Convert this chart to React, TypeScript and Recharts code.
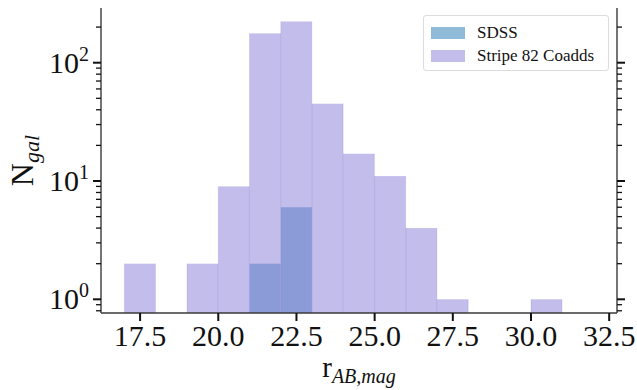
import React from "react";
import { ComposedChart, Bar, XAxis, YAxis, Legend } from "recharts";

// histogram bins (left edges, width 1 mag)
const binStarts = [17, 18, 19, 20, 21, 22, 23, 24, 25, 26, 27, 28, 29, 30];
const stripeCounts = [2, 0, 2, 9, 177, 223, 45, 17, 11, 4, 1, 0, 0, 1];
const sdssCounts = [0, 0, 0, 0, 2, 6, 0, 0, 0, 0, 0, 0, 0, 0];

const seriesNames = ["SDSS", "Stripe 82 Coadds"];
const xTicks = [17.5, 20, 22.5, 25, 27.5, 30, 32.5];
const yMajor = [1, 10, 100];
const yMinor = [0.8, 0.9, 2, 3, 4, 5, 6, 7, 8, 9, 20, 30, 40, 50, 60, 70, 80, 90, 200];

const FONT = '"Liberation Serif", "DejaVu Serif", serif';
const SDSS_COLOR = "#1f77b4";
const STRIPE_COLOR = "#877bd7";
const FRAME = "#3a3a3a";

const data = binStarts.map((lo, i) => ({
  mid: lo + 0.5,
  sdss: sdssCounts[i] > 0 ? sdssCounts[i] : null,
  stripe: stripeCounts[i] > 0 ? stripeCounts[i] : null,
}));

const yTicks = [...yMinor, ...yMajor].sort((a, b) => a - b);

const HistBar = (props: any) => {
  const { x, y, width, height, color, alpha, seam } = props;
  if (!height || height <= 0) return null;
  return (
    <g>
      <rect x={x} y={y} width={width} height={height} fill={color} fillOpacity={alpha} />
      {seam && (
        <>
          <line x1={x} x2={x} y1={y} y2={y + height} stroke={color} strokeOpacity={0.22} />
          <line x1={x + width} x2={x + width} y1={y} y2={y + height} stroke={color} strokeOpacity={0.22} />
        </>
      )}
    </g>
  );
};

const LeftTick = (props: any) => {
  const { x, y, payload } = props;
  const v = payload.value;
  const major = yMajor.includes(v);
  const len = major ? 8 : 5;
  return (
    <g>
      <line x1={x - len} x2={x} y1={y} y2={y} stroke="#111" strokeWidth={major ? 2 : 1.3} />
      {major && (
        <text x={x - 12} y={y + 10} textAnchor="end" fontFamily={FONT} fontSize={30} fill="#111">
          10
          <tspan dy={-12} fontSize={20}>{Math.round(Math.log10(v))}</tspan>
        </text>
      )}
    </g>
  );
};

const RightTick = (props: any) => {
  const { x, y, payload } = props;
  const major = yMajor.includes(payload.value);
  const len = major ? 8 : 5;
  return <line x1={x} x2={x + len} y1={y} y2={y} stroke="#111" strokeWidth={major ? 2 : 1.3} />;
};

const BottomTick = (props: any) => {
  const { x, y, payload } = props;
  return (
    <g>
      <line x1={x} x2={x} y1={y} y2={y + 8} stroke="#111" strokeWidth={2} />
      <text x={x} y={y + 33} textAnchor="middle" fontFamily={FONT} fontSize={30} fill="#111">
        {payload.value.toFixed(1)}
      </text>
    </g>
  );
};

const XLabel = (props: any) => {
  const { viewBox } = props;
  const cx = viewBox.x + viewBox.width / 2;
  return (
    <text x={cx} y={377} textAnchor="middle" fontFamily={FONT} fontSize={29} fill="#111">
      r
      <tspan fontStyle="italic" fontSize={20} dy={6}>AB,mag</tspan>
    </text>
  );
};

const YLabel = (props: any) => {
  const { viewBox } = props;
  const cy = viewBox.y + viewBox.height / 2;
  const lx = 33;
  return (
    <text
      x={lx}
      y={cy}
      transform={`rotate(-90, ${lx}, ${cy})`}
      textAnchor="middle"
      fontFamily={FONT}
      fontSize={32}
      fill="#111"
    >
      N
      <tspan fontStyle="italic" fontSize={22} dy={6}>gal</tspan>
    </text>
  );
};

const LegendBox = () => {
  const colors = [SDSS_COLOR, STRIPE_COLOR];
  return (
    <div
      style={{
        border: "1px solid #dcdcdc",
        borderRadius: 3,
        background: "rgba(255,255,255,0.8)",
        padding: "5px 7px 3px 7px",
        fontFamily: FONT,
        fontSize: 17,
        color: "#111",
      }}
    >
      {seriesNames.map((name, i) => (
        <div key={name} style={{ display: "flex", alignItems: "center", height: 23 }}>
          <span
            style={{
              display: "inline-block",
              width: 34,
              height: 12,
              background: colors[i],
              opacity: 0.5,
              marginRight: 12,
            }}
          />
          <span>{name}</span>
        </div>
      ))}
    </div>
  );
};

export default function App() {
  return (
    <div style={{ position: "absolute", left: 0, top: 0, width: 637, height: 390, background: "#fff" }}>
      <ComposedChart width={637} height={390} data={data} margin={{ top: 8, right: 0, bottom: 0, left: 0 }} barCategoryGap={0} barGap={0}>
        <XAxis
          xAxisId="bottom"
          dataKey="mid"
          type="number"
          domain={[16.25, 32.75]}
          allowDataOverflow
          ticks={xTicks}
          interval={0}
          tickSize={0}
          tickMargin={0}
          tick={<BottomTick />}
          axisLine={{ stroke: FRAME, strokeWidth: 1.4 }}
          height={77}
          label={<XLabel />}
        />
        <XAxis
          xAxisId="top"
          dataKey="mid"
          type="number"
          orientation="top"
          domain={[16.25, 32.75]}
          allowDataOverflow
          height={0}
          tick={false}
          tickLine={false}
          axisLine={{ stroke: FRAME, strokeWidth: 1.4 }}
        />
        <YAxis
          yAxisId="left"
          type="number"
          scale="log"
          domain={[0.766, 290]}
          allowDataOverflow
          ticks={yTicks}
          interval={0}
          tickSize={0}
          tickMargin={0}
          tick={<LeftTick />}
          axisLine={{ stroke: FRAME, strokeWidth: 1.4 }}
          width={101}
          label={<YLabel />}
        />
        <YAxis
          yAxisId="right"
          orientation="right"
          type="number"
          scale="log"
          domain={[0.766, 290]}
          allowDataOverflow
          ticks={yTicks}
          interval={0}
          tickSize={0}
          tickMargin={0}
          tick={<RightTick />}
          axisLine={{ stroke: FRAME, strokeWidth: 1.4 }}
          width={20}
        />
        <Bar
          dataKey="sdss"
          name={seriesNames[0]}
          xAxisId="top"
          yAxisId="left"
          isAnimationActive={false}
          shape={(p: any) => <HistBar {...p} color={SDSS_COLOR} alpha={0.5} seam={false} />}
        />
        <Bar
          dataKey="stripe"
          name={seriesNames[1]}
          xAxisId="bottom"
          yAxisId="left"
          isAnimationActive={false}
          shape={(p: any) => <HistBar {...p} color={STRIPE_COLOR} alpha={0.5} seam />}
        />
        <Legend
          layout="vertical"
          align="center"
          verticalAlign="middle"
          content={<LegendBox />}
          wrapperStyle={{ left: 423, top: 15, width: 186 }}
        />
      </ComposedChart>
    </div>
  );
}
